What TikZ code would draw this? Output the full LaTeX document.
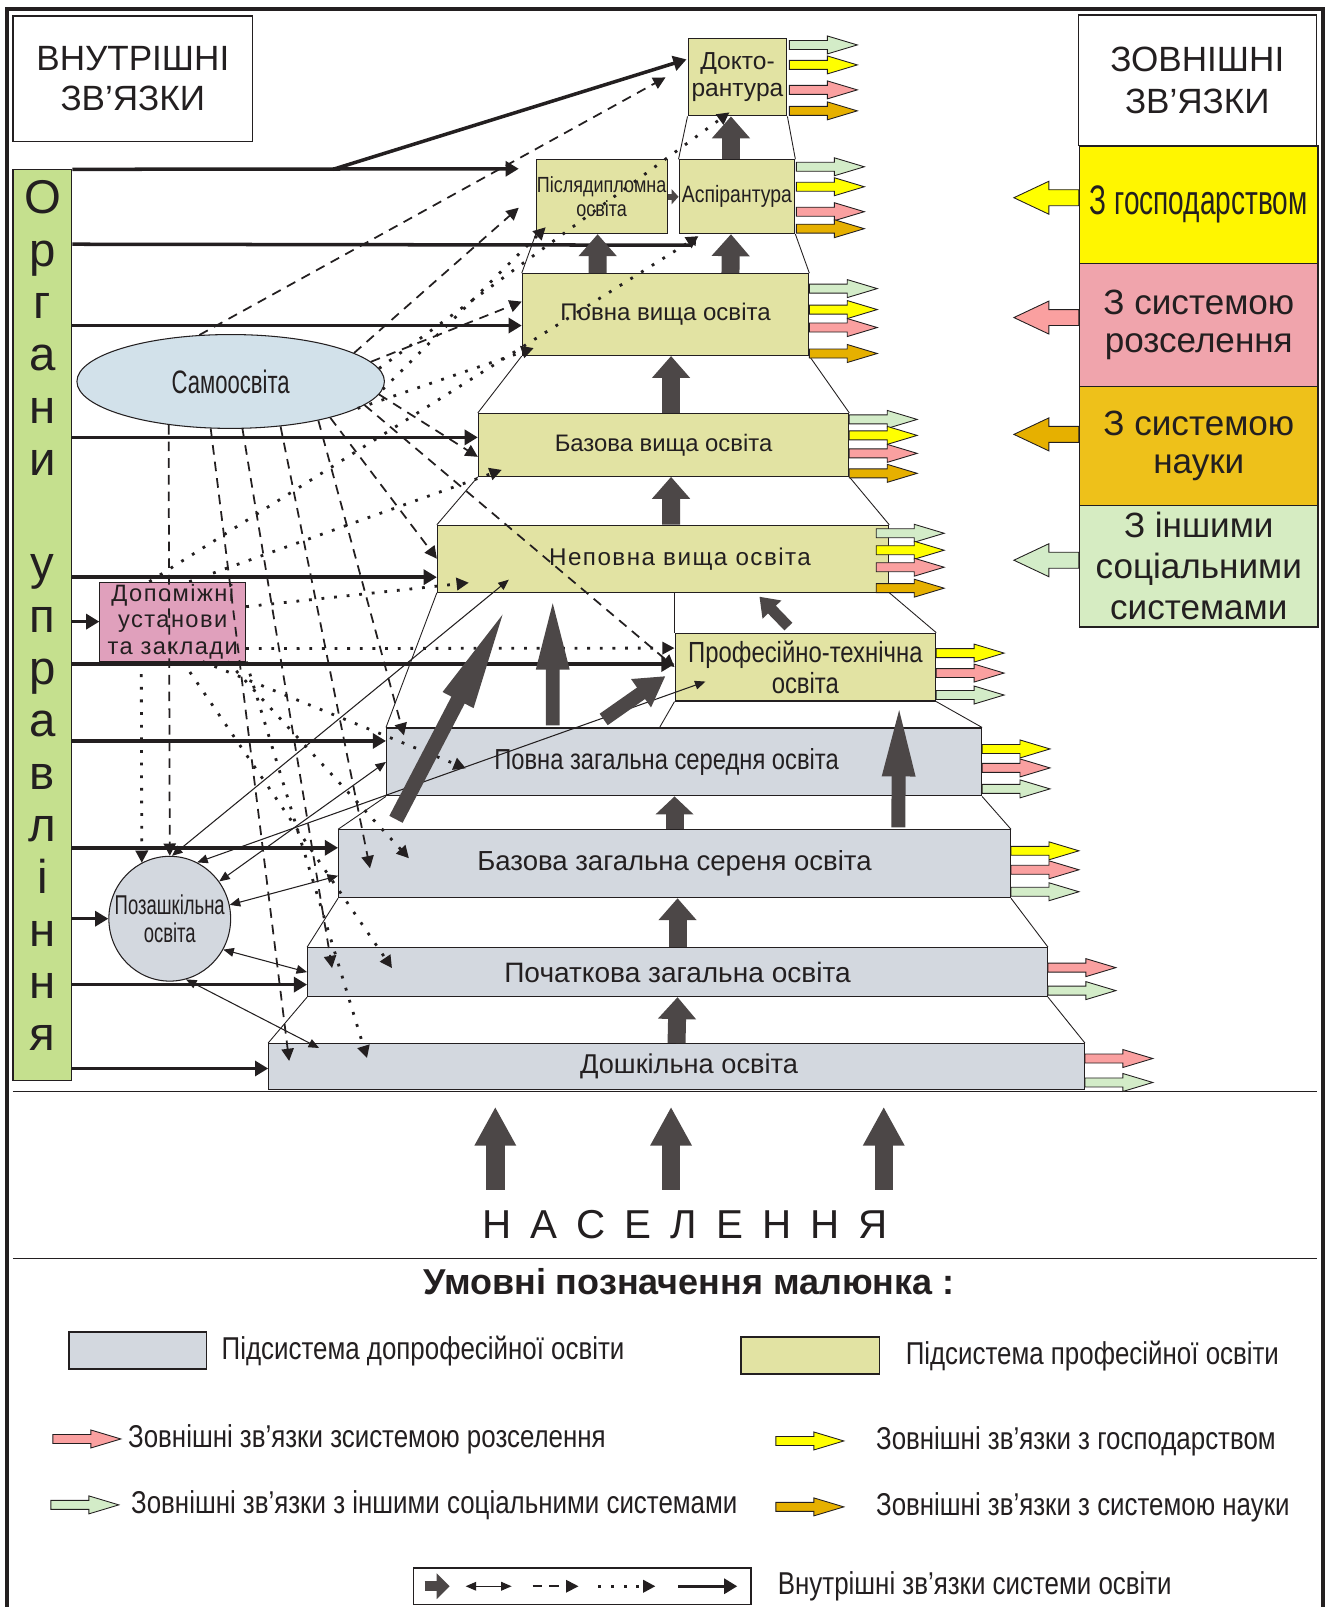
\documentclass[tikz,border=0pt]{standalone}
\usepackage{fontspec}
\setmainfont{Liberation Sans}
\newfontfamily\narrowfont[FakeStretch=0.82]{Liberation Sans}
\newfontfamily\condfont[FakeStretch=0.68]{Liberation Sans}
\newfontfamily\spacedfont[LetterSpace=6]{Liberation Sans}
\newfontfamily\widefont[WordSpace=1.7]{Liberation Sans}
\usetikzlibrary{arrows.meta,calc,positioning,shapes.geometric}

\definecolor{ink}{RGB}{35,31,32}
\definecolor{precol}{RGB}{211,216,223}
\definecolor{procol}{RGB}{226,227,163}
\definecolor{barcol}{RGB}{197,224,142}
\definecolor{samocol}{RGB}{210,225,234}
\definecolor{dopcol}{RGB}{224,160,188}
\definecolor{gospcol}{RGB}{255,246,0}
\definecolor{rozcol}{RGB}{240,164,172}
\definecolor{naukcol}{RGB}{238,193,26}
\definecolor{inshcol}{RGB}{214,236,194}
\definecolor{arrgreen}{RGB}{211,236,200}
\definecolor{arryellow}{RGB}{255,255,0}
\definecolor{arrpink}{RGB}{250,160,160}
\definecolor{arrorange}{RGB}{230,176,0}
\definecolor{flowcol}{RGB}{76,71,71}

\newcommand{\fsz}[2]{\fontsize{#1}{#2}\selectfont}

\tikzset{
    tbox/.style = {draw=ink, inner sep=0pt, align=center, text=ink, line width=0.6pt},
    prebox/.style = {tbox, fill=precol},
    probox/.style = {tbox, fill=procol},
    extbox/.style = {tbox, minimum width=4.78cm, line width=0.8pt},
    legtext/.style = {font=\narrowfont\fsz{18}{18}, text=ink, inner sep=0pt},
    rim/.style = {draw=ink, line width=0.5pt},
    ctrl/.style = {draw=ink, line width=2pt, -{Triangle[length=7.5pt,width=8.5pt]}},
    selfed/.style = {draw=ink, line width=1pt, dash pattern=on 5.5pt off 4pt, -{Triangle[length=7pt,width=7pt]}},
    aux/.style = {draw=ink, line width=1.6pt, dash pattern=on 1.6pt off 5.6pt, -{Triangle[length=7pt,width=7pt]}},
    twoway/.style = {draw=ink, line width=0.6pt, {Triangle[length=6pt,width=5pt]}-{Triangle[length=6pt,width=5pt]}},
    rise/.style n args = {3}{draw=flowcol, line width=#1, -{Triangle[length=#2,width=#3]}},
    stepup/.style = {rise={0.36cm}{0.44cm}{0.74cm}},
    spike/.style = {rise={0.28cm}{1.5cm}{0.58cm}},
    extarr/.pic = {\draw[pic actions, draw=ink, line width=0.5pt] (0,-4.5) -- (38,-4.5) -- (38,-9) -- (68,0) -- (38,9) -- (38,4.5) -- (0,4.5) -- cycle;},
    inarr/.pic = {\draw[pic actions, draw=ink, line width=0.5pt] (0,-8) -- (-30,-8) -- (-30,-16.5) -- (-65,0) -- (-30,16.5) -- (-30,8) -- (0,8) -- cycle;}
}

\begin{document}
\begin{tikzpicture}[x=0.02cm, y=-0.02cm]
\fill[white] (0,0) rectangle (1330,1609);
\draw[ink, line width=2.6pt] (7,1609) -- (7,9) -- (1325,9) -- (1325,1609);

% headings
\node[tbox, minimum width=4.8cm, minimum height=2.52cm, font=\fsz{20}{23}] (vnutr) at (133,79) {ВНУТРІШНІ\\ЗВ’ЯЗКИ};
\node[tbox, minimum width=4.76cm, minimum height=2.62cm, font=\fsz{20}{24}] (zovn) at (1199,80.5) {ЗОВНІШНІ\\ЗВ’ЯЗКИ};

% external systems
\node[extbox, fill=gospcol, minimum height=2.36cm, font=\condfont\fsz{23.5}{25}] (zgosp) at (1200.5,205) {З господарством};
\node[extbox, fill=rozcol, minimum height=2.46cm, font=\fsz{20}{22}] (zroz) at (1200.5,325.5) {З системою\\розселення};
\node[extbox, fill=naukcol, minimum height=2.38cm, font=\fsz{20}{22}] (znauk) at (1200.5,446.5) {З системою\\науки};
\node[extbox, fill=inshcol, minimum height=2.44cm, font=\fsz{20}{23.4}] (zinsh) at (1200.5,567) {З іншими\\соціальними\\системами};

% management bar
\node[tbox, fill=barcol, minimum width=1.18cm, minimum height=18.24cm] (organy) at (42.5,626) {};
\foreach \l/\i in {О/0,р/1,г/2,а/3,н/4,и/5,у/7,п/8,р/9,а/10,в/11,л/12,і/13,н/14,н/15,я/16}
    \node[font=\fsz{27}{27}, text=ink, anchor=base] (org\i) at (42.5,{214+52.4*\i}) {\l};

% pyramid
\node[prebox, minimum width=16.34cm, minimum height=0.92cm, font=\fsz{15.5}{17}] (dosh) at (677.5,1068) {\hspace*{0.5cm}Дошкільна освіта};
\node[prebox, minimum width=14.82cm, minimum height=0.98cm, font=\fsz{16}{17}] (poch) at (678.5,973.5) {Початкова загальна освіта};
\node[prebox, minimum width=13.46cm, minimum height=1.36cm, font=\fsz{15.7}{17}] (bzag) at (675.5,865) {Базова загальна сереня освіта};
\node[prebox, minimum width=11.92cm, minimum height=1.36cm, font=\narrowfont\fsz{16.5}{18}] (pzag) at (685,763) {Повна загальна середня освіта\hspace*{0.7cm}};
\node[probox, minimum width=5.22cm, minimum height=1.36cm, font=\narrowfont\fsz{16.6}{17.5}] (proft) at (806.5,668) {Професійно-технічна\\освіта};
\node[probox, minimum width=9.04cm, minimum height=1.34cm, font=\spacedfont\fsz{13.8}{16}] (nepov) at (664,559.5) {\hspace*{0.68cm}Неповна вища освіта};
\node[probox, minimum width=7.42cm, minimum height=1.26cm, font=\fsz{13.6}{16}] (bvys) at (664.5,445.5) {Базова вища освіта};
\node[probox, minimum width=5.74cm, minimum height=1.64cm, font=\fsz{13.7}{16}] (pvys) at (666.5,315) {Повна вища освіта};
\node[probox, minimum width=2.62cm, minimum height=1.48cm, font=\narrowfont\fsz{12.5}{13.4}] (pisl) at (602.5,197) {Післядипломна\\освіта};
\node[probox, minimum width=2.32cm, minimum height=1.48cm, font=\narrowfont\fsz{13.5}{15}] (asp) at (738,197) {Аспірантура};
\node[probox, minimum width=1.98cm, minimum height=1.54cm, font=\fsz{14}{15.2}] (dokt) at (738.5,77.5) {Докто-\\рантура};

% side institutions
\node[tbox, ellipse, fill=samocol, minimum width=6.16cm, minimum height=1.88cm, font=\condfont\fsz{18.5}{18}] (samo) at (231,382) {Самоосвіта};
\node[tbox, fill=dopcol, minimum width=2.92cm, minimum height=1.58cm, font=\spacedfont\fsz{13.5}{15.2}] (dopom) at (173,622.5) {Допоміжні\\установи\\та заклади};
\node[tbox, ellipse, fill=precol, minimum width=2.44cm, minimum height=2.5cm, font=\condfont\fsz{15.5}{16.3}] (pozash) at (170,920) {\makebox[0pt]{Позашкільна}\\\makebox[0pt]{освіта}};

% pyramid sides
\draw[rim] (dokt.south west) -- (asp.north west);
\draw[rim] (dokt.south east) -- (asp.north east);
\draw[rim] (pisl.south west) -- (pvys.north west);
\draw[rim] (asp.south east) -- (pvys.north east);
\draw[rim] (pvys.south west) -- (bvys.north west);
\draw[rim] (pvys.south east) -- (bvys.north east);
\draw[rim] (bvys.south west) -- (nepov.north west);
\draw[rim] (bvys.south east) -- (nepov.north east);
\draw[rim] (nepov.south west) -- (pzag.north west);
\draw[rim] (nepov.south east) -- (proft.north east);
\draw[rim] (proft.north west |- nepov.south) -- (proft.north west);
\draw[rim] (proft.south west) -- ($(pzag.north west)+(274,0)$);
\draw[rim] (proft.south east) -- (pzag.north east);
\draw[rim] (pzag.south west) -- (bzag.north west);
\draw[rim] (pzag.south east) -- (bzag.north east);
\draw[rim] (bzag.south west) -- (poch.north west);
\draw[rim] (bzag.south east) -- (poch.north east);
\draw[rim] (poch.south west) -- (dosh.north west);
\draw[rim] (poch.south east) -- (dosh.north east);
\coordinate (groundw) at (13,1093);
\coordinate (grounde) at (1319,1093);
\draw[rim, line width=0.8pt] (groundw) -- (grounde);

% management links
\draw[ctrl] (organy.north east) -- ($(pisl.west)+(-17,-28)$);
\draw[ctrl] ($(organy.north east)+(261,0)$) -- ($(dokt.north west)+(-1,21)$);
\draw[ctrl, -{Triangle[length=5pt,width=5pt]}] ($(organy.north east)+(0,75)$) -- ($(asp.south west)+(12,11)$) -- ($(asp.south west)+(18,2)$);
\coordinate (tpvys) at ($(pvys.west)+(0,11)$);
\coordinate (tbvys) at ($(bvys.west)+(0,-7.5)$);
\coordinate (tnepov) at ($(nepov.west)+(0,18.5)$);
\coordinate (tdopom) at (dopom.west);
\coordinate (tproft) at ($(proft.west)+(0,-3)$);
\coordinate (tpzag) at ($(pzag.west)+(0,-21)$);
\coordinate (tbzag) at ($(bzag.west)+(0,-16)$);
\coordinate (tpozash) at (pozash.west);
\coordinate (tpoch) at ($(poch.west)+(0,12.5)$);
\coordinate (tdosh) at ($(dosh.west)+(0,2)$);
\foreach \t in {tpvys,tbvys,tnepov,tdopom,tproft,tpzag,tbzag,tpozash,tpoch,tdosh}
    \draw[ctrl] (organy.east |- \t) -- (\t);

% self-education links
\draw[selfed] (samo.124) -- ($(dokt.west)+(-22,0)$);
\draw[selfed] (samo.13) -- ($(pisl.west)+(-17,11)$);
\draw[selfed] (samo.8) -- ($(pvys.west)+(0,-13)$);
\draw[selfed] (samo.-5) -- ($(bvys.west)+(0,12)$);
\draw[selfed] (samo.-20) -- (nepov.west);
\draw[selfed] (samo.-10) -- (proft.west);
\draw[selfed] (samo.-145) -- (pozash.north);
\draw[selfed] (samo.-113) -- ($(dosh.north west)+(21,18)$);
\draw[selfed] (samo.-76) -- ($(poch.north west)+(25,21)$);
\draw[selfed] (samo.-42) -- ($(bzag.north west)+(32,39)$);
\draw[selfed] (samo.-24) -- ($(pzag.north west)+(18,8)$);

% auxiliary links
\draw[aux] (samo.5) -- ($(dokt.south)+(-8,-4)$);
\draw[aux] (samo.-3) -- ($(pisl.south west)+(10,-7)$);
\draw[aux] (samo.-12) -- ($(pvys.south west)+(12,-8)$);
\draw[aux] ($(dopom.north west)+(50,0)$) -- ($(asp.south west)+(20,2)$);
\draw[aux] ($(dopom.north west)+(90,0)$) -- ($(bvys.south west)+(24,-7)$);
\draw[aux] ($(dopom.east)+(0,-15)$) -- ($(nepov.south west)+(32,-10)$);
\draw[aux] ($(dopom.east)+(0,27)$) -- ($(proft.west)+(0,-19)$);
\draw[aux] ($(dopom.south west)+(42,0)$) -- ($(pozash.center)+(-28,-56)$);
\draw[aux] ($(dopom.south)+(10,0)$) -- ($(poch.north west)+(85,21)$);
\draw[aux] (dopom.south east) -- ($(dosh.north west)+(99,15)$);
\draw[aux] ($(dopom.south)+(30,0)$) -- ($(pzag.north west)+(80,41)$);
\draw[aux] ($(dopom.south)+(55,0)$) -- ($(bzag.north west)+(71,29)$);

% out-of-school links
\draw[twoway] (pozash.88) -- ($(nepov.south west)+(72,-13)$);
\draw[twoway] (pozash.64) -- ($(proft.south west)+(31,-20)$);
\draw[twoway] (pozash.37) -- (pzag.west);
\draw[twoway] (pozash.13) -- ($(bzag.west)+(0,12)$);
\draw[twoway] (pozash.-30) -- (poch.west);
\draw[twoway] (pozash.-75) -- ($(dosh.north west)+(51,5)$);

% flows between levels
\draw[stepup] (dosh.north) -- (poch.south);
\draw[stepup] (poch.north) -- (poch.north |- bzag.south);
\draw[rise={0.36cm}{0.36cm}{0.74cm}] (bzag.north) -- (bzag.north |- pzag.south);
\draw[stepup] ($(nepov.north)+(8,0)$) -- ($(bvys.south)+(7.5,0)$);
\draw[stepup] ($(bvys.north)+(7.5,0)$) -- ($(pvys.south)+(5.5,0)$);
\draw[stepup] ($(pvys.north west)+(76,0)$) -- ($(pisl.south west)+(62,0)$);
\draw[stepup] ($(pvys.north west)+(209,0)$) -- ($(asp.south)+(-6,0)$);
\draw[stepup] ($(asp.north)+(-6,0)$) -- ($(dokt.south)+(-6.5,0)$);
\draw[rise={0.12cm}{0.14cm}{0.3cm}] (pisl.east) -- (asp.west);
\draw[spike] ($(bzag.north west)+(561,-2)$) -- ($(proft.south east)+(-37,0)$);
\draw[spike] ($(pzag.north west)+(167,-2)$) -- ($(nepov.south west)+(116,2)$);
\draw[rise={0.3cm}{2.2cm}{0.6cm}] ($(bzag.north west)+(58,-10)$) -- ($(nepov.south west)+(72,10)$);
\draw[rise={0.28cm}{0.6cm}{0.65cm}] ($(pzag.north west)+(218,-8)$) -- ($(proft.west)+(-9,9)$);
\draw[rise={0.22cm}{0.36cm}{0.5cm}] ($(proft.north west)+(114,-6)$) -- ($(nepov.south west)+(323,4)$);

% external links of the levels
\foreach \dy/\c in {-32.5/arrgreen,-12.5/arryellow,12.5/arrpink,33.5/arrorange}
    \pic[fill=\c] at ($(dokt.east)+(2,\dy)$) {extarr};
\foreach \dy/\c in {-30/arrgreen,-10/arryellow,15/arrpink,32/arrorange}
    \pic[fill=\c] at ($(asp.east)+(1,\dy)$) {extarr};
\foreach \dy/\c in {-26/arrgreen,-5/arryellow,13/arrpink,39/arrorange}
    \pic[fill=\c] at ($(pvys.east)+(0,\dy)$) {extarr};
\foreach \dy/\c in {-25.5/arrgreen,-9.5/arryellow,8.5/arrpink,28.5/arrorange}
    \pic[fill=\c] at ($(bvys.east)+(0,\dy)$) {extarr};
\foreach \dy/\c in {-25.5/arrgreen,-8.5/arryellow,8.5/arrpink,29.5/arrorange}
    \pic[fill=\c] at ($(nepov.east)+(-13,\dy)$) {extarr};
\foreach \dy/\c in {-14/arryellow,6/arrpink,28/arrgreen}
    \pic[fill=\c] at ($(proft.east)+(0,\dy)$) {extarr};
\foreach \dy/\c in {-13/arryellow,6/arrpink,27/arrgreen}
    \pic[fill=\c] at ($(pzag.east)+(0,\dy)$) {extarr};
\foreach \dy/\c in {-13/arryellow,6/arrpink,28/arrgreen}
    \pic[fill=\c] at ($(bzag.east)+(0,\dy)$) {extarr};
\foreach \dy/\c in {-4.5/arrpink,18.5/arrgreen}
    \pic[fill=\c] at ($(poch.east)+(0,\dy)$) {extarr};
\foreach \dy/\c in {-8/arrpink,16/arrgreen}
    \pic[fill=\c] at ($(dosh.east)+(0,\dy)$) {extarr};

\pic[fill=arryellow] at ($(zgosp.west)+(0,-7)$) {inarr};
\pic[fill=arrpink] at ($(zroz.west)+(0,-7.5)$) {inarr};
\pic[fill=arrorange] at ($(znauk.west)+(0,-11.5)$) {inarr};
\pic[fill=arrgreen] at ($(zinsh.west)+(0,-6)$) {inarr};

% population
\node[font=\widefont\fsz{23}{23}, text=ink, inner sep=0pt] (nasel) at (686,1226) {Н А С Е Л Е Н Н Я};
\foreach \dx in {-190,-14,199}
    \draw[rise={0.37cm}{0.78cm}{0.78cm}] ($(nasel.north)+(\dx,-20)$) -- ++(0,-83);

% legend
\coordinate (legw) at (13,1260);
\coordinate (lege) at (1319,1260);
\draw[rim, line width=0.8pt] (legw) -- (lege);
\node[font=\bfseries\fsz{20.5}{22}, text=ink] (legtitle) at (690,1283) {Умовні позначення малюнка :};
\node[prebox, minimum width=2.76cm, minimum height=0.74cm, line width=0.8pt] (leggray) at (138,1352.5) {};
\node[legtext, right=0.28cm of leggray] (leggraytxt) {Підсистема допрофесійної освіти};
\node[probox, minimum width=2.78cm, minimum height=0.74cm, line width=0.8pt] (legolive) at (811.5,1357.5) {};
\node[legtext, right=0.5cm of legolive] (legolivetxt) {Підсистема професійної освіти};

\coordinate (legpink) at (53,1441);
\coordinate (legyellow) at (777,1443);
\coordinate (leggreen) at (51,1507);
\coordinate (legorange) at (777,1509);
\pic[fill=arrpink] at (legpink) {extarr};
\pic[fill=arryellow] at (legyellow) {extarr};
\pic[fill=arrgreen] at (leggreen) {extarr};
\pic[fill=arrorange] at (legorange) {extarr};
\node[legtext, anchor=west] (legpinktxt) at ($(legpink)+(75,0)$) {Зовнішні зв’язки зсистемою розселення};
\node[legtext, anchor=west] (legyellowtxt) at ($(legyellow)+(100,0)$) {Зовнішні зв’язки з господарством};
\node[legtext, anchor=west] (leggreentxt) at ($(leggreen)+(80,0)$) {Зовнішні зв’язки з іншими соціальними системами};
\node[legtext, anchor=west] (legorangetxt) at ($(legorange)+(100,0)$) {Зовнішні зв’язки з системою науки};

\node[tbox, minimum width=6.76cm, minimum height=0.74cm, line width=0.8pt] (legbox) at (583,1588.5) {};
\draw[rise={0.2cm}{0.26cm}{0.5cm}] ($(legbox.west)+(12,0)$) -- ++(25,0);
\draw[twoway] ($(legbox.west)+(53,0)$) -- ++(46,0);
\draw[selfed] ($(legbox.west)+(120,0)$) -- ++(46,0);
\draw[aux] ($(legbox.west)+(186,0)$) -- ++(57,0);
\draw[ctrl] ($(legbox.west)+(266,0)$) -- ++(59,0);
\node[legtext, right=0.52cm of legbox] (legboxtxt) {Внутрішні зв’язки системи освіти};
\end{tikzpicture}
\end{document}
